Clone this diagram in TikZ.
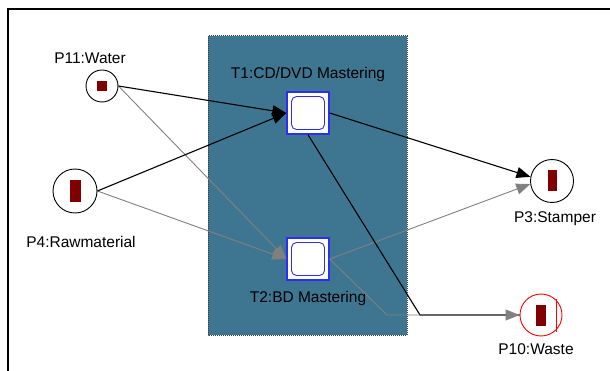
\documentclass[tikz,border=0pt]{standalone}
\usepackage{fontspec}
\setmainfont{Liberation Sans}
\usetikzlibrary{arrows.meta,positioning}
\definecolor{netblue}{RGB}{62,118,145}
\definecolor{tblue}{RGB}{45,45,250}
\definecolor{tokred}{RGB}{128,0,0}
\definecolor{arcgray}{RGB}{128,128,128}

\begin{document}
\begin{tikzpicture}[x=1pt,y=-1pt,>={Triangle[length=14pt,width=11pt]},
  font=\fontsize{15.5}{18}\selectfont,
  place/.style={circle,draw,fill=white,inner sep=0pt,line width=.9pt},
  token/.style={fill=tokred,inner sep=0pt},
  trans/.style={draw=tblue,fill=white,line width=1.4pt,minimum size=42pt,inner sep=0pt,
    path picture={\draw[tblue,line width=.9pt,rounded corners=5pt]
      ([shift={(4.5pt,4.5pt)}]path picture bounding box.south west) rectangle
      ([shift={(-4.5pt,-4.5pt)}]path picture bounding box.north east);}},
  blackarc/.style={line width=1.1pt},
  grayarc/.style={arcgray,line width=.9pt}]
\useasboundingbox (0,0) rectangle (610,371);
\draw[line width=2pt] (8,371) -- (8,9) -- (610,9);
\filldraw[fill=netblue,draw=black!75,densely dotted,line width=1pt] (208,36) rectangle (407,335);

\node[trans] (t1) at (308,113) {};
\node[trans] (t2) at (308,259) {};
\node (t1lbl) at (308,74) {T1:CD/DVD Mastering};
\node (t2lbl) at (308,298) {T2:BD Mastering};

\node[place,minimum size=32pt] (p11) at (102,86) {};
\node[place,minimum size=44pt] (p4) at (75,191) {};
\node[place,minimum size=43pt] (p3) at (552,181) {};
\node[place,draw=red,minimum size=42pt] (p10) at (541,315) {};
\node[token,minimum width=10pt,minimum height=10pt] (tok11) at (p11) {};
\node[token,minimum width=11pt,minimum height=22pt] (tok4) at (p4) {};
\node[token,minimum width=9pt,minimum height=21pt] (tok3) at (p3) {};
\node[token,minimum width=10pt,minimum height=21pt] (tok10) at (p10) {};
\draw[red,line width=.9pt] (556,299) -- (556,332);
\node (p11lbl) at (90,58) {P11:Water};
\node (p4lbl) at (81,242) {P4:Rawmaterial};
\node (p3lbl) at (555,219) {P3:Stamper};
\node (p10lbl) at (536,349) {P10:Waste};

\coordinate (k1) at (420,315);
\coordinate (k2) at (387,315);

\draw[grayarc,->] (p11.east) -- (t2.west);
\draw[grayarc,->] (p4.east) -- (t2.west);
\draw[blackarc,->] (p11.east) -- (t1.west);
\draw[blackarc,->] (p4.east) -- (t1.west);
\draw[blackarc,->] (t1.east) -- (p3.169);
\draw[grayarc,->] (t2.east) -- (p3.188);
\draw[blackarc] (t1.south) -- (k1) -- (p10.west);
\draw[grayarc,->] (t2.east) -- (k2) -- (p10.west);
\end{tikzpicture}
\end{document}
